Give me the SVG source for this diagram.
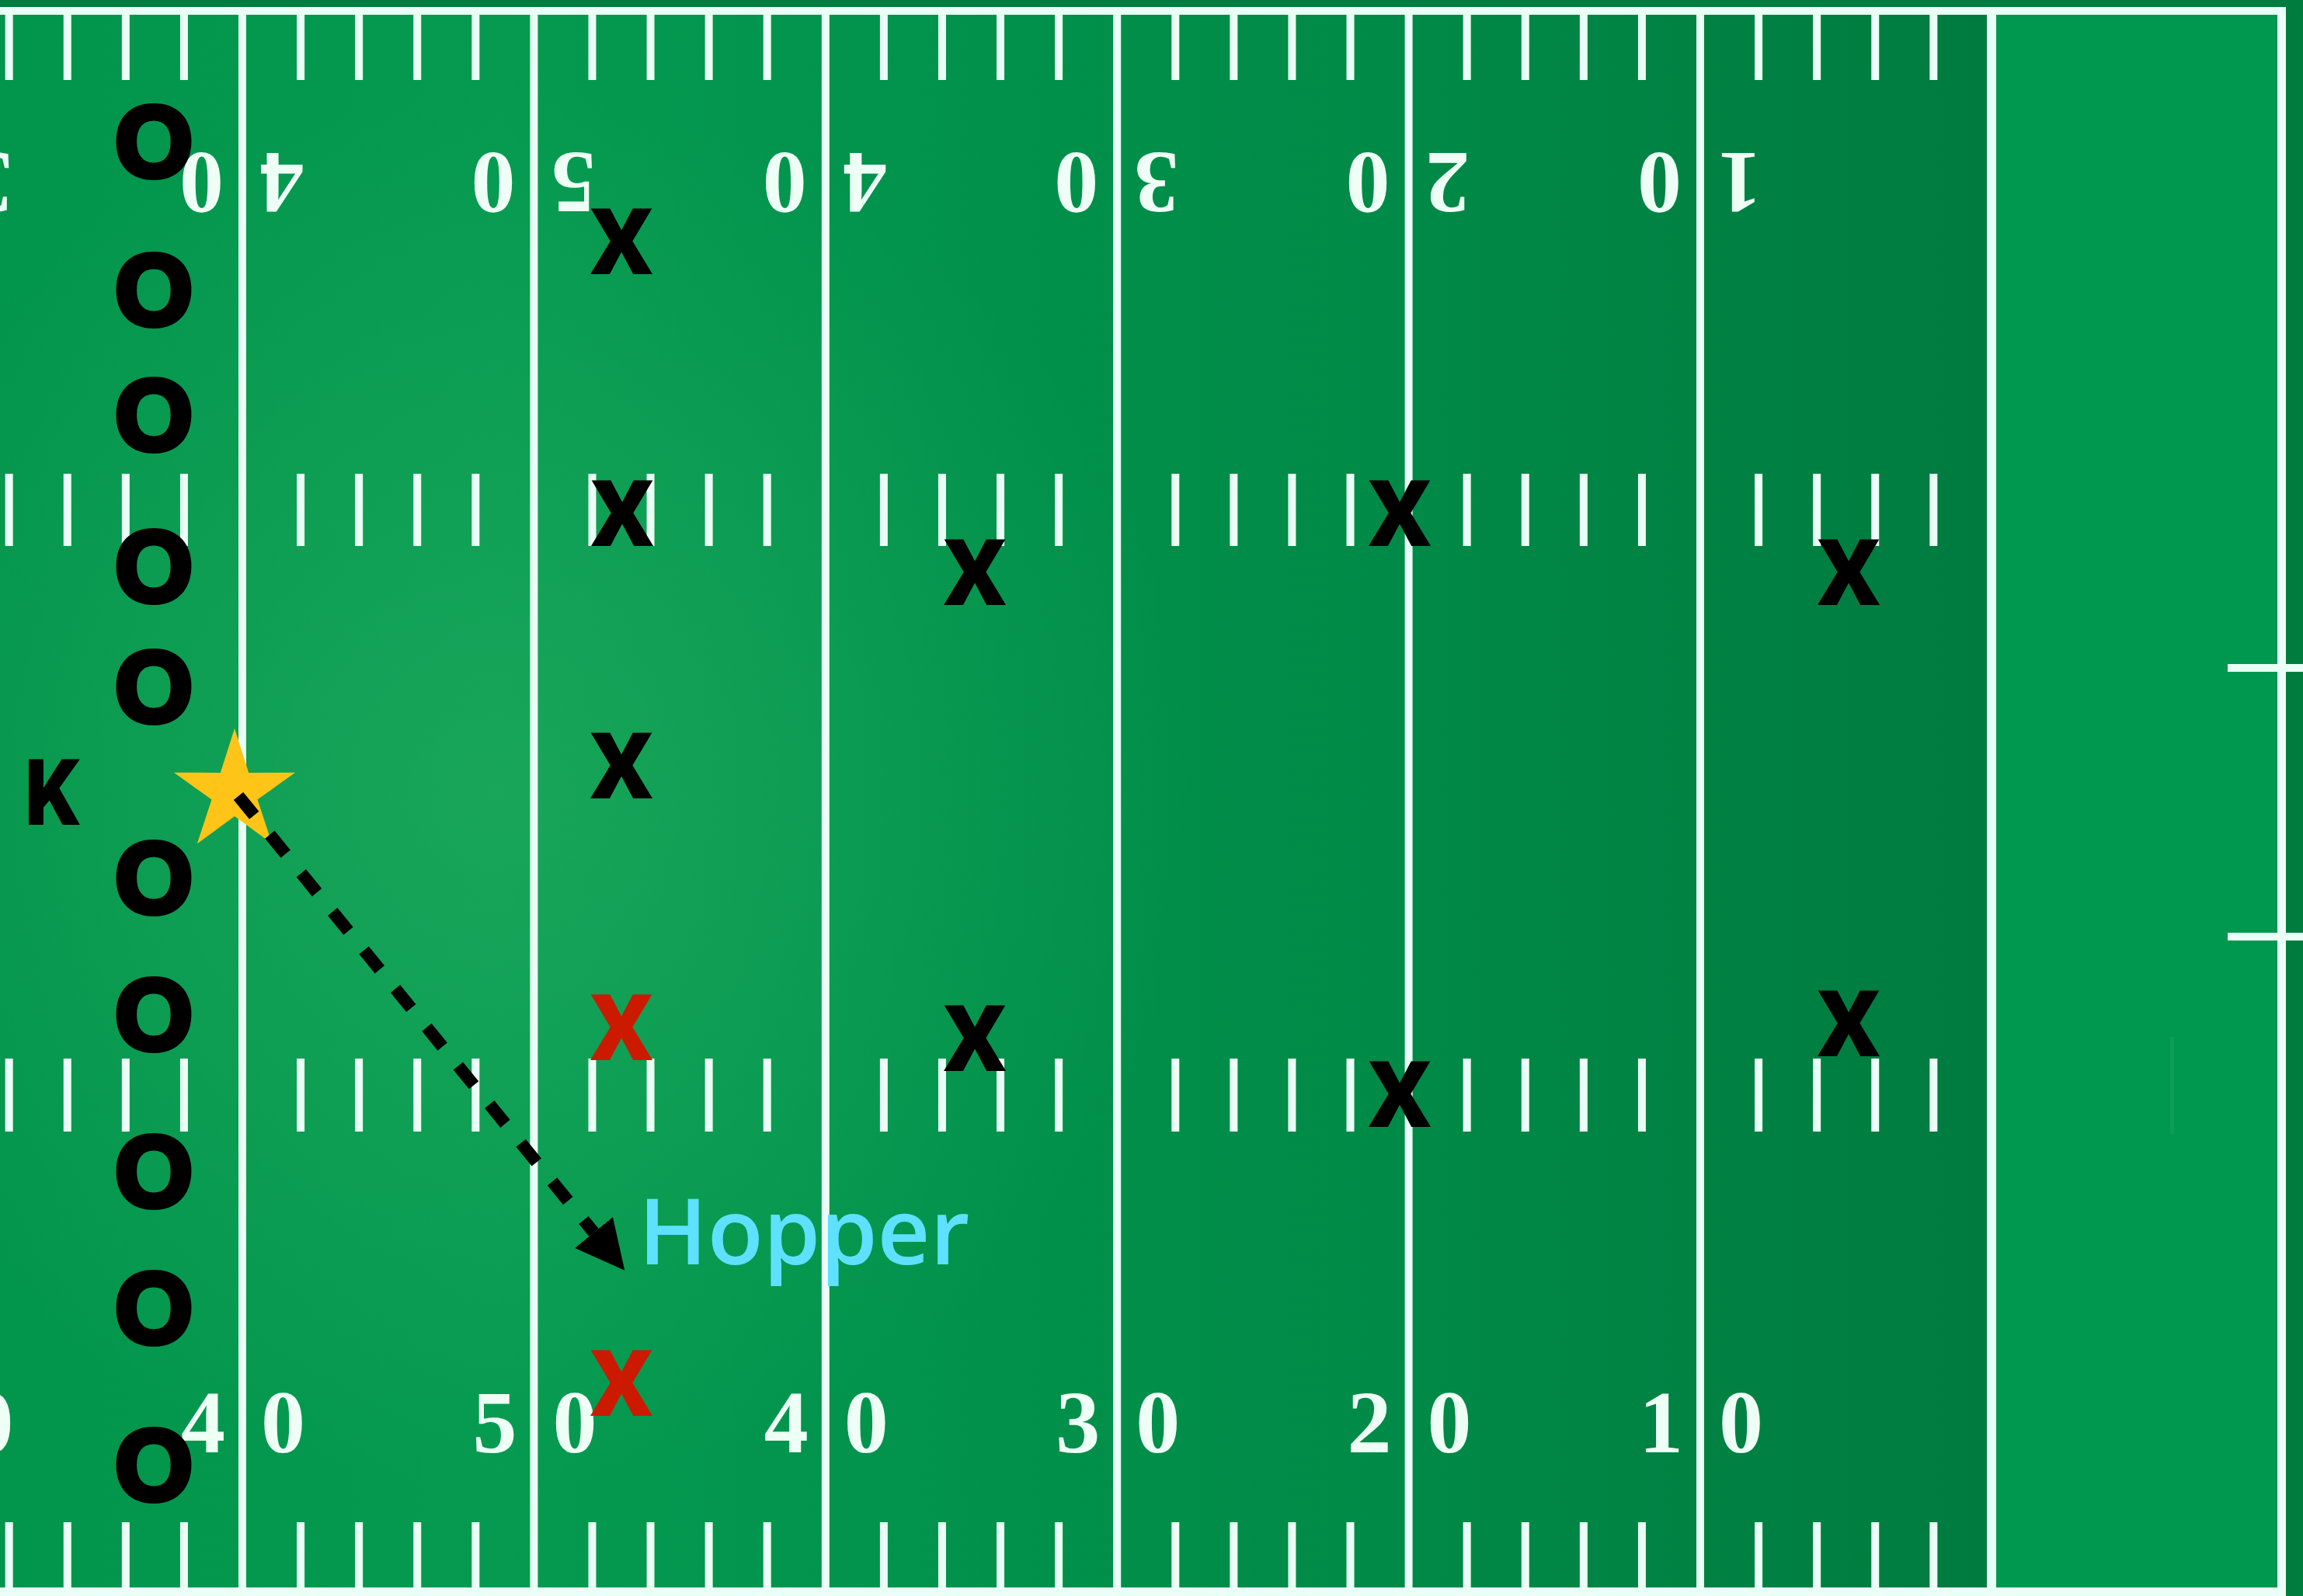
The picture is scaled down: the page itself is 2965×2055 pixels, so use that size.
<svg xmlns="http://www.w3.org/2000/svg" xmlns:xlink="http://www.w3.org/1999/xlink" width="2965" height="2055" viewBox="0 0 2965 2055">
<style>
.ln{fill:#EAFFF5}
.num{font-family:"Liberation Serif","Times New Roman",serif;font-weight:bold;font-size:114px;fill:#EEFFF6}
.o{font-family:"Liberation Sans",Arial,sans-serif;font-weight:bold;font-size:128px;fill:#000;stroke:#000;stroke-width:8px;text-anchor:middle}
.x{font-family:Roboto,"Liberation Sans",Arial,sans-serif;font-weight:900;font-size:118px;fill:#000;text-anchor:middle}
.red{fill:#CC1A00}
.lbl{font-family:"Open Sans","Liberation Sans",Arial,sans-serif;font-weight:600;font-size:118px;fill:#5EE0FF}
</style>
<defs>
<linearGradient id="fg" gradientUnits="userSpaceOnUse" x1="0" y1="0" x2="2564" y2="0">
<stop offset="0" stop-color="#02954C"/>
<stop offset="0.25" stop-color="#059A50"/>
<stop offset="0.5" stop-color="#01914B"/>
<stop offset="0.7" stop-color="#008A47"/>
<stop offset="0.85" stop-color="#008243"/>
<stop offset="1" stop-color="#007B40"/>
</linearGradient>
<radialGradient id="glow" gradientUnits="userSpaceOnUse" cx="640" cy="1020" r="900">
<stop offset="0" stop-color="#30B466" stop-opacity="0.45"/>
<stop offset="1" stop-color="#30B466" stop-opacity="0"/>
</radialGradient>
<g id="seg">
<rect x="70.08" y="17" width="10" height="86"/><rect x="145.16" y="17" width="10" height="86"/><rect x="220.24" y="17" width="10" height="86"/><rect x="295.32" y="17" width="10" height="86"/>
<rect x="70.08" y="610" width="10" height="93"/><rect x="145.16" y="610" width="10" height="93"/><rect x="220.24" y="610" width="10" height="93"/><rect x="295.32" y="610" width="10" height="93"/>
<rect x="70.08" y="1363" width="10" height="94"/><rect x="145.16" y="1363" width="10" height="94"/><rect x="220.24" y="1363" width="10" height="94"/><rect x="295.32" y="1363" width="10" height="94"/>
<rect x="70.08" y="1960" width="10" height="86"/><rect x="145.16" y="1960" width="10" height="86"/><rect x="220.24" y="1960" width="10" height="86"/><rect x="295.32" y="1960" width="10" height="86"/>
</g>
<g id="n3"><text class="num" x="-22" y="0" text-anchor="end">3</text><text class="num" x="24" y="0">0</text></g>
<g id="n4"><text class="num" x="-22" y="0" text-anchor="end">4</text><text class="num" x="24" y="0">0</text></g>
<g id="n5"><text class="num" x="-22" y="0" text-anchor="end">5</text><text class="num" x="24" y="0">0</text></g>
<g id="n2"><text class="num" x="-22" y="0" text-anchor="end">2</text><text class="num" x="24" y="0">0</text></g>
<g id="n1"><text class="num" x="-22" y="0" text-anchor="end">1</text><text class="num" x="24" y="0">0</text></g>
<marker id="ah" markerUnits="userSpaceOnUse" markerWidth="63" markerHeight="63" viewBox="0 0 63 63" refX="0" refY="31.5" orient="auto">
<path d="M0,0 L63,31.5 L0,63 Z" fill="#000"/>
</marker>
</defs>

<g id="field">
<rect x="0" y="0" width="2965" height="2055" fill="#007C3F"/>
<rect x="0" y="9" width="2564" height="2046" fill="url(#fg)"/>
<rect x="0" y="9" width="2564" height="2046" fill="url(#glow)"/>
<rect x="2564" y="9" width="374" height="2046" fill="#00984F"/>
<rect x="2794" y="1335" width="5" height="125" fill="#FFFFFF" opacity="0.05"/>
<g class="ln">
<rect x="0" y="9" width="2943" height="10"/>
<rect x="0" y="2044" width="2943" height="11"/>
<rect x="307" y="9" width="10" height="2046"/>
<rect x="682.4" y="9" width="10" height="2046"/>
<rect x="1057.8" y="9" width="10" height="2046"/>
<rect x="1433.2" y="9" width="10" height="2046"/>
<rect x="1808.6" y="9" width="10" height="2046"/>
<rect x="2184" y="9" width="10" height="2046"/>
<rect x="2558" y="9" width="12" height="2046"/>
<rect x="2932" y="9" width="11" height="2046"/>
<rect x="2868" y="855" width="97" height="10"/>
<rect x="2868" y="1201" width="97" height="10"/>
<use href="#seg" transform="translate(-63.4,0)"/>
<use href="#seg" transform="translate(312,0)"/>
<use href="#seg" transform="translate(687.4,0)"/>
<use href="#seg" transform="translate(1062.8,0)"/>
<use href="#seg" transform="translate(1438.2,0)"/>
<use href="#seg" transform="translate(1813.6,0)"/>
<use href="#seg" transform="translate(2189,0)"/>
</g>
<g id="numbers">
<use href="#n3" transform="translate(-63.4,1870)"/>
<use href="#n4" transform="translate(312,1870)"/>
<use href="#n5" transform="translate(687.4,1870)"/>
<use href="#n4" transform="translate(1062.8,1870)"/>
<use href="#n3" transform="translate(1438.2,1870)"/>
<use href="#n2" transform="translate(1813.6,1870)"/>
<use href="#n1" transform="translate(2189,1870)"/>
<use href="#n3" transform="translate(-63.4,197) rotate(180)"/>
<use href="#n4" transform="translate(312,197) rotate(180)"/>
<use href="#n5" transform="translate(687.4,197) rotate(180)"/>
<use href="#n4" transform="translate(1062.8,197) rotate(180)"/>
<use href="#n3" transform="translate(1438.2,197) rotate(180)"/>
<use href="#n2" transform="translate(1813.6,197) rotate(180)"/>
<use href="#n1" transform="translate(2189,197) rotate(180)"/>
</g>
</g>

<g id="kicker-K"><text class="x" transform="translate(66.5,1062) scale(0.93,1)" style="font-size:119px">K</text></g>
<g id="ball"><polygon points="302,938 320.2,994.9 380,994.7 331.5,1029.6 350.2,1086.3 302,1051 253.8,1086.3 272.5,1029.6 224,994.7 283.8,994.9" fill="#FFC418"/></g>

<g id="kick-team">
<g id="o1"><text class="o" x="198" y="227">O</text></g>
<g id="o2"><text class="o" x="198" y="418">O</text></g>
<g id="o3"><text class="o" x="198" y="579">O</text></g>
<g id="o4"><text class="o" x="198" y="774">O</text></g>
<g id="o5"><text class="o" x="198" y="929">O</text></g>
<g id="o6"><text class="o" x="198" y="1175">O</text></g>
<g id="o7"><text class="o" x="198" y="1351">O</text></g>
<g id="o8"><text class="o" x="198" y="1553">O</text></g>
<g id="o9"><text class="o" x="198" y="1729">O</text></g>
<g id="o10"><text class="o" x="198" y="1931">O</text></g>
</g>

<g id="return-team">
<g id="x1"><text class="x" transform="translate(800,353) scale(1.07,1)">X</text></g>
<g id="x2"><text class="x" transform="translate(801,703) scale(1.07,1)">X</text></g>
<g id="x3"><text class="x" transform="translate(800,1028) scale(1.07,1)">X</text></g>
<g id="x4"><text class="x red" transform="translate(800,1365) scale(1.07,1)">X</text></g>
<g id="x5"><text class="x red" transform="translate(800,1823) scale(1.07,1)">X</text></g>
<g id="x6"><text class="x" transform="translate(1255,779) scale(1.07,1)">X</text></g>
<g id="x7"><text class="x" transform="translate(1255,1379) scale(1.07,1)">X</text></g>
<g id="x8"><text class="x" transform="translate(1802,703) scale(1.07,1)">X</text></g>
<g id="x9"><text class="x" transform="translate(1802,1451) scale(1.07,1)">X</text></g>
<g id="x10"><text class="x" transform="translate(2380,779) scale(1.07,1)">X</text></g>
<g id="x11"><text class="x" transform="translate(2380,1360) scale(1.07,1)">X</text></g>
</g>

<g id="connectors">
<line x1="307" y1="1025" x2="764.5" y2="1587" stroke="#000" stroke-width="16" stroke-dasharray="32 32" marker-end="url(#ah)"/>
</g>

<g id="hopper-label"><text class="lbl" x="822" y="1628">Hopper</text></g>
</svg>
